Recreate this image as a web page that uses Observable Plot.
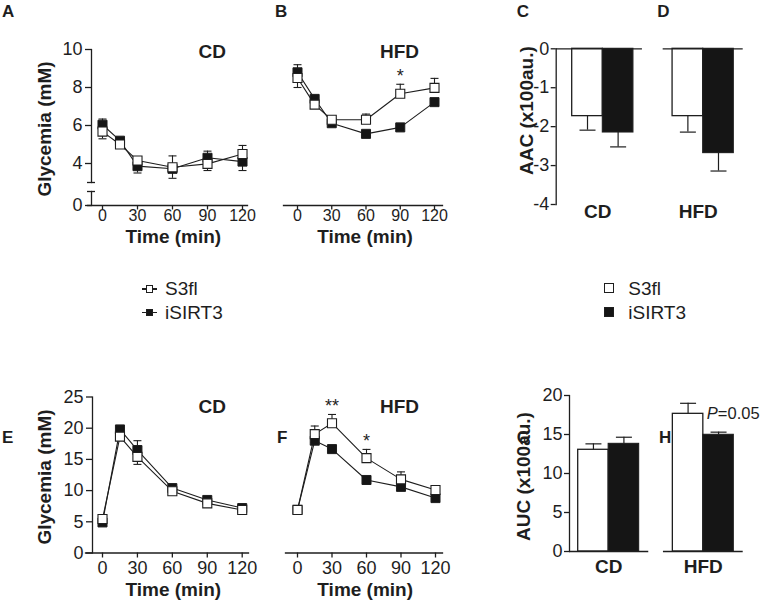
<!DOCTYPE html>
<html>
<head>
<meta charset="utf-8">
<script src="https://cdn.jsdelivr.net/npm/d3@7"></script>
<script src="https://cdn.jsdelivr.net/npm/@observablehq/plot@0.6"></script>
<style>
  body { margin: 0; background: #fff; }
  #fig { position: relative; width: 761px; height: 601px; overflow: hidden; background: #fff;
         font-family: Liberation Sans, Arial, Helvetica, sans-serif; color: #1e1e1e; }
  #fig > div { position: absolute; white-space: nowrap; }
  .letter { font-weight: bold; font-size: 17px; line-height: 17px; }
  .legtext { font-size: 19px; line-height: 19px; }
</style>
</head>
<body>
<div id="fig"></div>
<script>
// ---------------- data ----------------
const times = [0, 15, 30, 60, 90, 120];
const timeTicks = [0, 30, 60, 90, 120];
const groups = ["S3fl", "iSIRT3"];
const diets = ["CD", "HFD"];

// A: insulin tolerance, CD (glycemia mM)
const ittCD_S3fl = [5.68, 5.0, 4.16, 3.8, 3.98, 4.5];
const ittCD_S3fl_sem = [0.38, 0.15, 0.2, 0.6, 0.35, 0.45];
const ittCD_iSIRT3 = [6.04, 5.2, 3.86, 3.72, 4.3, 4.1];
const ittCD_iSIRT3_sem = [0.3, 0.15, 0.36, 0.5, 0.35, 0.47];

// B: insulin tolerance, HFD
const ittHFD_S3fl = [8.5, 7.1, 6.3, 6.3, 7.67, 7.98];
const ittHFD_S3fl_sem = [0.5, 0.2, 0.1, 0.3, 0.5, 0.5];
const ittHFD_iSIRT3 = [8.8, 7.4, 6.12, 5.56, 5.9, 7.23];
const ittHFD_iSIRT3_sem = [0.4, 0.15, 0.1, 0.1, 0.1, 0.15];

// E: glucose tolerance, CD
const gttCD_S3fl = [5.44, 18.65, 15.4, 9.9, 7.95, 6.9];
const gttCD_S3fl_sem = [0.3, 0.5, 1.2, 0.4, 0.4, 0.3];
const gttCD_iSIRT3 = [4.9, 19.8, 16.5, 10.4, 8.5, 7.2];
const gttCD_iSIRT3_sem = [0.3, 0.4, 1.5, 0.4, 0.4, 0.3];

// F: glucose tolerance, HFD
const gttHFD_S3fl = [6.9, 19.05, 20.8, 15.2, 11.8, 10.1];
const gttHFD_S3fl_sem = [0.3, 1.3, 1.4, 1.4, 1.2, 0.5];
const gttHFD_iSIRT3 = [6.9, 18.0, 16.65, 11.7, 10.6, 8.8];
const gttHFD_iSIRT3_sem = [0.3, 0.3, 0.3, 0.3, 0.5, 0.4];

// C/D: area above curve (x100 au), by diet
const aac_S3fl = [-1.73, -1.73];
const aac_S3fl_sem = [0.36, 0.41];
const aac_iSIRT3 = [-2.15, -2.68];
const aac_iSIRT3_sem = [0.37, 0.46];

// G/H: area under curve (x100 au), by diet
const auc_S3fl = [13.04, 17.65];
const auc_S3fl_sem = [0.76, 1.35];
const auc_iSIRT3 = [13.8, 14.96];
const auc_iSIRT3_sem = [0.85, 0.34];

const ittTicksUpper = [4, 6, 8, 10];
const ittTicksLower = [0];
const ittUpperDomain = [3, 10];     // broken axis: upper segment
const ittLowerDomain = [0, 0.75];   // broken axis: lower segment
const gttTicks = [0, 5, 10, 15, 20, 25];
const aacTicks = [0, -1, -2, -3, -4];
const aucTicks = [0, 5, 10, 15, 20];

const starsB = [{t: 90, label: "*"}];
const starsF = [{t: 30, label: "**"}, {t: 60, label: "*"}];
const pLabel = {diet: "HFD", italic: "P", rest: "=0.05"};

// ---------------- helpers ----------------
const W = 761, H = 601;
const INK = "#1e1e1e", BLACK = "#151515";
const FONT = "Liberation Sans, Arial, Helvetica, sans-serif";
const svgStyle = `position:absolute;left:0;top:0;background:transparent;overflow:visible;font-family:${FONT};font-size:18px;color:${INK};`;
const fig = document.getElementById("fig");
const add = (el) => fig.appendChild(el);

function lineRows(keys, a, as, b, bs) {
  const rows = [];
  keys.forEach((k, i) => {
    const sUp = a[i] >= b[i];
    rows.push({k, g: "iSIRT3", v: b[i], end: b[i] + (sUp ? -bs[i] : bs[i])});
    rows.push({k, g: "S3fl", v: a[i], end: a[i] + (sUp ? as[i] : -as[i])});
  });
  return rows;
}
function barRows(keys, a, as, b, bs) {
  const rows = [];
  keys.forEach((k, i) => {
    rows.push({k, g: "S3fl", v: a[i], end: a[i] + Math.sign(a[i]) * as[i]});
    rows.push({k, g: "iSIRT3", v: b[i], end: b[i] + Math.sign(b[i]) * bs[i]});
  });
  return rows;
}
const capSymbol = {draw(ctx, size) { const r = Math.sqrt(size / Math.PI); ctx.moveTo(-r, 0); ctx.lineTo(r, 0); }};

function lineMarks(rows) {
  return [
    Plot.line(rows, {x: "k", y: "v", z: "g", stroke: INK, strokeWidth: 1.1}),
    Plot.ruleX(rows, {x: "k", y1: "v", y2: "end", stroke: INK, strokeWidth: 1.1}),
    Plot.dot(rows, {x: "k", y: "end", symbol: capSymbol, r: 4, stroke: INK, strokeWidth: 1.1, fill: "none"}),
    Plot.dot(rows.filter(d => d.g === "iSIRT3"), {x: "k", y: "v", symbol: "square", r: 5.1, fill: BLACK, stroke: INK, strokeWidth: 1}),
    Plot.dot(rows.filter(d => d.g === "S3fl"), {x: "k", y: "v", symbol: "square", r: 5.1, fill: "white", stroke: INK, strokeWidth: 1.1})
  ];
}
function starMarks(rows, stars) {
  const top = (t) => rows.find(r => r.k === t && r.g === "S3fl").end;
  return Plot.text(stars, {x: "t", y: d => top(d.t), text: "label", lineAnchor: "bottom", dy: -2, fontSize: 18});
}
const axisStyle = {stroke: INK, strokeWidth: 1.3};
const titleStyle = {fontWeight: "bold", fontSize: 19, textAnchor: "middle", lineAnchor: "middle"};

// ---------------- A & B: insulin tolerance with broken y axis ----------------
function ittPanel({rows, frameX, xRange, yAxis, xLineExt, diet, dietDx, stars, timeDx}) {
  // upper segment holds the data
  add(Plot.plot({
    width: W, height: H, style: svgStyle,
    marginLeft: frameX[0], marginRight: W - frameX[1], marginTop: 49, marginBottom: H - 182,
    x: {domain: [0, 120], range: xRange, axis: null},
    y: {domain: ittUpperDomain, axis: null},
    marks: [
      ...(yAxis ? [
        Plot.frame({anchor: "left", ...axisStyle}),
        Plot.axisY({ticks: [ittUpperDomain[0]], tickSize: 8, dx: 4, tickFormat: () => "", label: null, ...axisStyle}),
        Plot.axisY({ticks: ittTicksUpper, tickSize: 6, tickPadding: 3, tickFormat: String, label: null, ...axisStyle}),
        Plot.text(["Glycemia (mM)"], {frameAnchor: "left", rotate: -90, dx: -47, dy: 13, ...titleStyle})
      ] : []),
      Plot.text([diet], {frameAnchor: "top-left", dx: dietDx, dy: 2.7, ...titleStyle}),
      ...lineMarks(rows),
      ...(stars ? [starMarks(rows, stars)] : [])
    ]
  }));
  // lower segment holds the zero tick and the time axis
  add(Plot.plot({
    width: W, height: H, style: svgStyle,
    marginLeft: frameX[0], marginRight: W - frameX[1], marginTop: 191, marginBottom: H - 205,
    x: {domain: [0, 120], range: xRange, axis: null},
    y: {domain: ittLowerDomain, axis: null},
    marks: [
      ...(yAxis ? [
        Plot.frame({anchor: "left", ...axisStyle}),
        Plot.axisY({ticks: [ittLowerDomain[1]], tickSize: 8, dx: 4, tickFormat: () => "", label: null, ...axisStyle}),
        Plot.axisY({ticks: ittTicksLower, tickSize: 6, tickPadding: 3, tickFormat: String, label: null, ...axisStyle})
      ] : []),
      Plot.frame({anchor: "bottom", insetLeft: -xLineExt, ...axisStyle}),
      Plot.axisX({ticks: timeTicks, tickSize: 4.5, tickPadding: 0, tickFormat: String, label: null, fontSize: 16, ...axisStyle}),
      Plot.text(["Time (min)"], {frameAnchor: "bottom", ...titleStyle, lineAnchor: "top", dy: 23.5, dx: timeDx})
    ]
  }));
}

const rowsA = lineRows(times, ittCD_S3fl, ittCD_S3fl_sem, ittCD_iSIRT3, ittCD_iSIRT3_sem);
ittPanel({rows: rowsA, frameX: [91, 247], xRange: [102, 242], yAxis: true, xLineExt: 4,
          diet: diets[0], dietDx: 120.7, timeDx: 3.8});

const rowsB = lineRows(times, ittHFD_S3fl, ittHFD_S3fl_sem, ittHFD_iSIRT3, ittHFD_iSIRT3_sem);
ittPanel({rows: rowsB, frameX: [283, 442], xRange: [297, 434], yAxis: false, xLineExt: 0,
          diet: diets[1], dietDx: 116, stars: starsB, timeDx: 2});

// ---------------- E ----------------
const rowsE = lineRows(times, gttCD_S3fl, gttCD_S3fl_sem, gttCD_iSIRT3, gttCD_iSIRT3_sem);
add(Plot.plot({
  width: W, height: H, style: svgStyle,
  marginLeft: 92, marginRight: W - 248, marginTop: 396.5, marginBottom: H - 552.5,
  x: {domain: [0, 120], range: [102, 241.7], axis: null},
  y: {domain: [0, 25], axis: null},
  marks: [
    Plot.frame({anchor: "left", ...axisStyle}),
    Plot.axisY({ticks: gttTicks, tickSize: 6, tickPadding: 3, tickFormat: String, label: null, ...axisStyle}),
    Plot.frame({anchor: "bottom", insetLeft: -7, ...axisStyle}),
    Plot.axisX({ticks: timeTicks, tickSize: 5, tickPadding: 3.5, tickFormat: String, label: null, ...axisStyle}),
    Plot.text(["Time (min)"], {frameAnchor: "bottom", ...titleStyle, lineAnchor: "top", dy: 29, dx: 2.8}),
    Plot.text(["Glycemia (mM)"], {frameAnchor: "left", rotate: -90, dx: -48, dy: 2, ...titleStyle}),
    Plot.text([diets[0]], {frameAnchor: "top-left", dx: 119.7, dy: 10, ...titleStyle}),
    ...lineMarks(rowsE)
  ]
}));

// ---------------- F ----------------
const rowsF = lineRows(times, gttHFD_S3fl, gttHFD_S3fl_sem, gttHFD_iSIRT3, gttHFD_iSIRT3_sem);
add(Plot.plot({
  width: W, height: H, style: svgStyle,
  marginLeft: 285, marginRight: W - 442, marginTop: 396.5, marginBottom: H - 552.5,
  x: {domain: [0, 120], range: [297, 435], axis: null},
  y: {domain: [0, 25], axis: null},
  marks: [
    Plot.frame({anchor: "bottom", ...axisStyle}),
    Plot.axisX({ticks: timeTicks, tickSize: 5, tickPadding: 3.5, tickFormat: String, label: null, ...axisStyle}),
    Plot.text(["Time (min)"], {frameAnchor: "bottom", ...titleStyle, lineAnchor: "top", dy: 29, dx: 1.2}),
    Plot.text([diets[1]], {frameAnchor: "top-left", dx: 114, dy: 10, ...titleStyle}),
    ...lineMarks(rowsF),
    starMarks(rowsF, starsF)
  ]
}));

// ---------------- bar panels ----------------
function barPanel({rows, frame, band, yDomain, ticks, title, titleDx, titleDy, labelDy, labelDx, baseExt}) {
  const pInner = band.paddingInner;
  const sc = d3.scaleBand(diets, band.range).paddingInner(pInner).paddingOuter(0);
  const bw = sc.bandwidth();
  const S = rows.filter(d => d.g === "S3fl"), B = rows.filter(d => d.g === "iSIRT3");
  return Plot.plot({
    width: W, height: H, style: svgStyle,
    marginLeft: frame[0], marginRight: W - frame[1], marginTop: frame[2], marginBottom: H - frame[3],
    x: {type: "band", domain: diets, range: band.range, paddingInner: pInner, paddingOuter: 0, round: false, axis: null},
    y: {domain: yDomain, axis: null},
    marks: [
      Plot.barY(S, {x: "k", y: "v", fill: "white", stroke: INK, strokeWidth: 1.3, insetRight: bw / 2}),
      Plot.barY(B, {x: "k", y: "v", fill: BLACK, stroke: INK, strokeWidth: 1.1, insetLeft: bw / 2}),
      Plot.ruleX(S, {x: "k", y1: "v", y2: "end", dx: -bw / 4, stroke: INK, strokeWidth: 1.2}),
      Plot.ruleX(B, {x: "k", y1: "v", y2: "end", dx: bw / 4, stroke: INK, strokeWidth: 1.2}),
      Plot.dot(S, {x: "k", y: "end", dx: -bw / 4, symbol: capSymbol, r: 8, stroke: INK, strokeWidth: 1.2, fill: "none"}),
      Plot.dot(B, {x: "k", y: "end", dx: bw / 4, symbol: capSymbol, r: 8, stroke: INK, strokeWidth: 1.2, fill: "none"}),
      Plot.tickY([0], {x: () => diets[0], insetLeft: -baseExt[0], insetRight: -baseExt[1], ...axisStyle}),
      Plot.tickY([0], {x: () => diets[1], insetLeft: -baseExt[2], insetRight: -baseExt[3], ...axisStyle}),
      Plot.frame({anchor: "left", ...axisStyle}),
      Plot.axisY({ticks, tickSize: 5, tickPadding: 2, tickFormat: String, label: null, ...axisStyle}),
      Plot.text(diets, {x: d => d, frameAnchor: "bottom", dy: labelDy, dx: labelDx, ...titleStyle}),
      Plot.text([title], {frameAnchor: "left", rotate: -90, dx: titleDx, dy: titleDy, ...titleStyle})
    ]
  });
}

const rowsCD = barRows(diets, aac_S3fl, aac_S3fl_sem, aac_iSIRT3, aac_iSIRT3_sem);
add(barPanel({
  rows: rowsCD, frame: [555.7, 743, 48.3, 204], band: {range: [571.7, 733.3], paddingInner: 0.39},
  yDomain: [-4, 0], ticks: aacTicks, title: "AAC (x100au.)",
  titleDx: -29, titleDy: -16, labelDy: 7.7, labelDx: -5, baseExt: [16, 9, 9.4, 9.4]
}));

const rowsGH = barRows(diets, auc_S3fl, auc_S3fl_sem, auc_iSIRT3, auc_iSIRT3_sem);
add(barPanel({
  rows: rowsGH, frame: [569, 743, 395, 551], band: {range: [577.7, 733.3], paddingInner: 0.356},
  yDomain: [0, 20], ticks: aucTicks, title: "AUC (x100au.)",
  titleDx: -45.3, titleDy: 3, labelDy: 15, labelDx: 0, baseExt: [8.7, 9.6, 9.4, 9.4]
}));

// P value annotation (G/H)
add(Plot.plot({
  width: W, height: H, style: svgStyle,
  marginLeft: 569, marginRight: W - 743, marginTop: 395, marginBottom: H - 551,
  x: {type: "band", domain: diets, range: [577.7, 733.3], paddingInner: 0.356, paddingOuter: 0, round: false, axis: null},
  y: {domain: [0, 20], axis: null},
  marks: [
    Plot.text([pLabel], {x: "diet", y: () => auc_S3fl[1], text: "italic", fontStyle: "italic", textAnchor: "start", lineAnchor: "middle", dx: 3.5, fontSize: 16.5}),
    Plot.text([pLabel], {x: "diet", y: () => auc_S3fl[1], text: "rest", textAnchor: "start", lineAnchor: "middle", dx: 14.5, fontSize: 16.5})
  ]
}));

// ---------------- HTML: panel letters and legends ----------------
const letters = [["A", 2, 5], ["B", 275, 5], ["C", 516.7, 5], ["D", 657.3, 5],
                 ["E", 2, 431], ["F", 277, 431], ["G", 516.7, 431], ["H", 659, 431]];
letters.forEach(([t, x, capTop]) => {
  const d = document.createElement("div");
  d.className = "letter"; d.textContent = t;
  d.style.left = x + "px"; d.style.top = (capTop - 2.2) + "px";
  add(d);
});

const legY = [289, 312.6];
groups.forEach((g, i) => {
  const y = legY[i];
  const fillC = g === "S3fl" ? "#fff" : BLACK;
  const ln = document.createElement("div");
  Object.assign(ln.style, {left: "141.7px", top: (y - 0.6) + "px", width: "15.6px", height: "1.2px", background: INK});
  add(ln);
  const sq = document.createElement("div");
  Object.assign(sq.style, {left: "145.7px", top: (y - 3.8) + "px", width: "7.6px", height: "7.6px",
    boxSizing: "border-box", border: `1.2px solid ${INK}`, background: fillC});
  add(sq);
  const tx = document.createElement("div");
  tx.className = "legtext"; tx.textContent = g;
  tx.style.left = "165px"; tx.style.top = (y + 6.3 - 16.1) + "px";
  add(tx);
  const bq = document.createElement("div");
  Object.assign(bq.style, {left: "604px", top: (y - 5.7 + i * 0.3) + "px", width: "10px", height: "10px",
    boxSizing: "border-box", border: `1.2px solid ${INK}`, background: fillC});
  add(bq);
  const tx2 = document.createElement("div");
  tx2.className = "legtext"; tx2.textContent = g;
  tx2.style.left = "628.3px"; tx2.style.top = (y + 6.3 - 16.1) + "px";
  add(tx2);
});
</script>
</body>
</html>
